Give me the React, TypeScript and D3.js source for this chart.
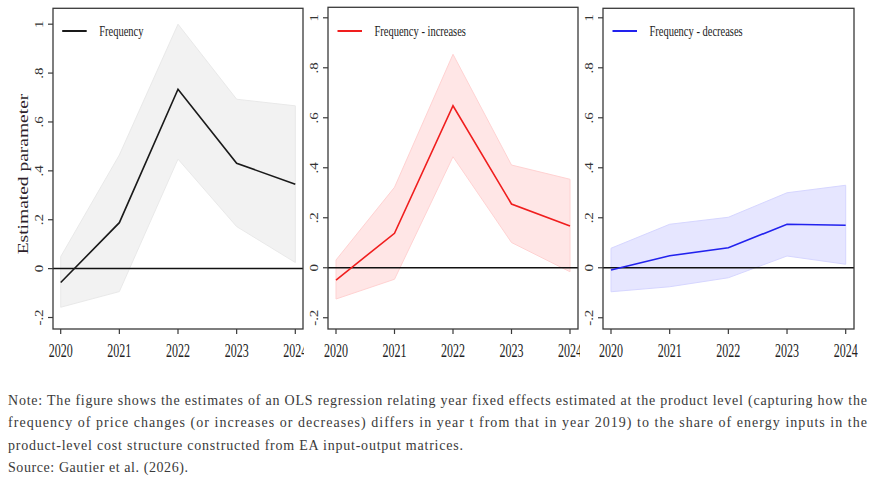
import React from "react";
import * as d3 from "d3";

const years = [2020, 2021, 2022, 2023, 2024];
const yearLabels = ["2020", "2021", "2022", "2023", "2024"];
const yTicks = [-0.2, 0, 0.2, 0.4, 0.6, 0.8, 1];
const yTickLabels = ["-.2", "0", ".2", ".4", ".6", ".8", "1"];

const freqEst = [-0.057, 0.188, 0.734, 0.431, 0.345];
const freqHi = [0.049, 0.465, 1.0, 0.693, 0.666];
const freqLo = [-0.158, -0.094, 0.448, 0.172, 0.025];

const incEst = [-0.049, 0.138, 0.648, 0.255, 0.167];
const incHi = [0.031, 0.322, 0.854, 0.411, 0.354];
const incLo = [-0.125, -0.046, 0.444, 0.101, -0.016];

const decEst = [-0.009, 0.048, 0.08, 0.174, 0.17];
const decHi = [0.078, 0.174, 0.202, 0.3, 0.33];
const decLo = [-0.096, -0.076, -0.04, 0.047, 0.014];

const seriesNames = ["Frequency", "Frequency - increases", "Frequency - decreases"];

const noteLines = [
  "Note: The figure shows the estimates of an OLS regression relating year fixed effects estimated at the product level (capturing how the",
  "frequency of price changes (or increases or decreases) differs in year t from that in year 2019) to the share of energy inputs in the",
  "product-level cost structure constructed from EA input-output matrices.",
  "Source: Gautier et al. (2026).",
];

type PanelCfg = {
  name: string;
  est: number[];
  hi: number[];
  lo: number[];
  line: string;
  fill: string;
  edge: string;
  box: [number, number, number, number]; // left, right, top, bottom
  xr: [number, number];
  yd: [number, number];
  clip: [number, number];
};

const panels: PanelCfg[] = [
  {
    name: seriesNames[0], est: freqEst, hi: freqHi, lo: freqLo,
    line: "#1a1a1a", fill: "#f2f2f2", edge: "#e9e9e9",
    box: [53, 303, 8.3, 329], xr: [60.7, 295.3], yd: [-0.247, 1.065], clip: [0, 304],
  },
  {
    name: seriesNames[1], est: incEst, hi: incHi, lo: incLo,
    line: "#f01e1e", fill: "#ffe6e6", edge: "#ffd2d2",
    box: [328, 578, 7.3, 329], xr: [336, 570], yd: [-0.245, 1.042], clip: [304, 580],
  },
  {
    name: seriesNames[2], est: decEst, hi: decHi, lo: decLo,
    line: "#2222ee", fill: "#e6e6ff", edge: "#d6d6ff",
    box: [603, 854, 8.3, 329], xr: [611, 845.7], yd: [-0.245, 1.038], clip: [580, 875],
  },
];

function Panel({ p, idx }: { p: PanelCfg; idx: number }) {
  const [L, R, T, B] = p.box;
  const x = d3.scalePoint<number>().domain(years).range(p.xr);
  const y = d3.scaleLinear().domain(p.yd).range([B, T]);
  const idxs = years.map((_, i) => i);
  const area = d3
    .area<number>()
    .x((i) => x(years[i])!)
    .y0((i) => y(p.lo[i]))
    .y1((i) => y(p.hi[i]));
  const line = d3
    .line<number>()
    .x((i) => x(years[i])!)
    .y((i) => y(p.est[i]));
  const clipId = `clip${idx}`;
  return (
    <g clipPath={`url(#${clipId})`}>
      <defs>
        <clipPath id={clipId}>
          <rect x={p.clip[0]} y={0} width={p.clip[1] - p.clip[0]} height={380} />
        </clipPath>
      </defs>
      <rect x={p.clip[0]} y={0} width={p.clip[1] - p.clip[0]} height={380} fill="#fff" />
      <path d={area(idxs)!} fill={p.fill} stroke={p.edge} strokeWidth={1} />
      <line x1={L} x2={R} y1={y(0)} y2={y(0)} stroke="#111" strokeWidth={1.5} />
      <path d={line(idxs)!} fill="none" stroke={p.line} strokeWidth={1.6} />
      {/* frame */}
      <rect x={L} y={T} width={R - L} height={B - T} fill="none" stroke="#3a3a3a" strokeWidth={1.3} />
      {/* y ticks */}
      {yTicks.map((t, i) => (
        <g key={i}>
          <line x1={L - 5} x2={L} y1={y(t)} y2={y(t)} stroke="#3a3a3a" strokeWidth={1.2} />
          <text
            transform={`translate(${L - 10.5},${y(t)}) rotate(-90) scale(1.15,1)`}
            textAnchor="middle"
            fontFamily="'Liberation Serif', serif"
            fontSize={13}
            fill="#333"
          >
            {yTickLabels[i]}
          </text>
        </g>
      ))}
      {/* x ticks */}
      {years.map((yr, i) => (
        <g key={yr}>
          <line x1={x(yr)} x2={x(yr)} y1={B} y2={B + 5} stroke="#3a3a3a" strokeWidth={1.2} />
          <text
            transform={`translate(${x(yr)},356.5) scale(1,1.6)`}
            textAnchor="middle"
            fontFamily="'Liberation Serif', serif"
            fontSize={12}
            fill="#222"
          >
            {yearLabels[i]}
          </text>
        </g>
      ))}
      {/* legend */}
      <line x1={x(2020)! + 1.5} x2={x(2020)! + 26} y1={31} y2={31} stroke={p.line} strokeWidth={2} />
      <text
        transform={`translate(${x(2020)! + 38.5},35.5) scale(1,1.45)`}
        fontFamily="'Liberation Serif', serif"
        fontSize={10.5}
        fill="#222"
      >
        {p.name}
      </text>
    </g>
  );
}

export default function App() {
  return (
    <svg
      width={875}
      height={483}
      viewBox="0 0 875 483"
      style={{ position: "absolute", left: 0, top: 0, background: "#fff" }}
    >
      <rect x={0} y={0} width={875} height={483} fill="#fff" />
      {panels.map((p, i) => (
        <Panel key={i} p={p} idx={i} />
      ))}
      <text
        transform="translate(28,174) rotate(-90) scale(1.3,1)"
        textAnchor="middle"
        fontFamily="'Liberation Serif', serif"
        fontSize={15}
        fill="#2e1f2b"
      >
        Estimated parameter
      </text>
      {noteLines.map((t, i) => (
        <text
          key={i}
          x={8}
          y={404.5 + i * 22.6}
          fontFamily="'Liberation Serif', serif"
          fontSize={14}
          fill="#3a3a3a"
          textLength={i < 2 ? 859 : i === 2 ? 455 : 180}
          lengthAdjust="spacing"
        >
          {t}
        </text>
      ))}
    </svg>
  );
}
